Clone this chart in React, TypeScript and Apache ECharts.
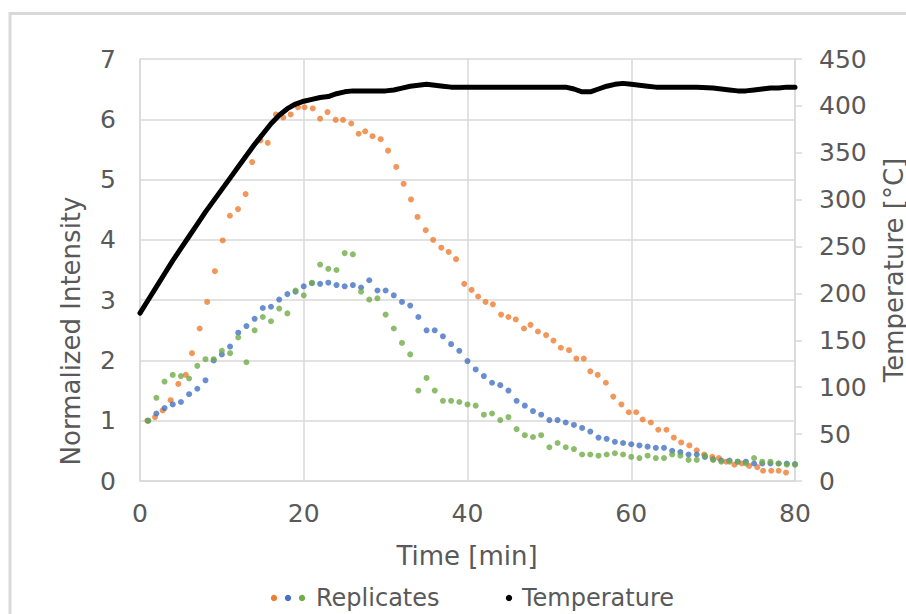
import React, { useEffect, useRef } from "react";
import * as echarts from "echarts";

// Replicate 1 (orange): measurement times [min] and normalized intensity
const orangeTime = [0.9, 1.83, 2.77, 3.74, 4.68, 5.6, 6.35, 7.29, 8.2, 9.15, 10.1, 10.98, 11.97, 12.9, 13.7, 14.7, 15.6, 16.6, 17.5, 18.4, 19.3, 20.1, 21.1, 22.0, 22.9, 23.9, 24.8, 25.8, 26.7, 27.5, 28.4, 29.4, 30.3, 31.3, 32.2, 33.1, 33.9, 34.9, 35.8, 36.8, 37.7, 38.6, 39.6, 40.5, 41.3, 42.2, 43.1, 44.1, 45.0, 45.9, 46.9, 47.7, 48.6, 49.6, 50.5, 51.4, 52.4, 53.3, 54.2, 55.0, 55.9, 56.9, 57.8, 58.8, 59.7, 60.6, 61.4, 62.4, 63.3, 64.3, 65.2, 66.1, 67.1, 68.0, 68.9, 69.9, 70.7, 71.6, 72.6, 73.5, 74.4, 75.4, 76.1, 77.1, 78.0, 78.9];
const orangeVals = [1.0, 1.06, 1.17, 1.34, 1.61, 1.76, 2.12, 2.53, 2.97, 3.48, 3.99, 4.4, 4.51, 4.76, 5.29, 5.65, 5.61, 6.08, 6.03, 6.08, 6.2, 6.2, 6.18, 6.01, 6.12, 5.99, 5.99, 5.93, 5.76, 5.8, 5.72, 5.67, 5.48, 5.21, 4.93, 4.67, 4.38, 4.16, 4.0, 3.87, 3.8, 3.68, 3.27, 3.17, 3.06, 2.97, 2.93, 2.76, 2.72, 2.68, 2.53, 2.59, 2.48, 2.42, 2.33, 2.21, 2.17, 2.03, 2.03, 1.82, 1.76, 1.63, 1.4, 1.27, 1.14, 1.14, 1.02, 0.97, 0.85, 0.85, 0.72, 0.64, 0.59, 0.51, 0.44, 0.4, 0.38, 0.32, 0.27, 0.29, 0.25, 0.23, 0.17, 0.17, 0.17, 0.14];

// Replicates 2 (blue) and 3 (green): measurement times [min]
const repTime = [1, 2, 3, 4, 5, 6, 7, 8, 9, 10, 11, 12, 13, 14, 15, 16, 17, 18, 19, 20, 21, 22, 23, 24, 25, 26, 27, 28, 29, 30, 31, 32, 33, 34, 35, 36, 37, 38, 39, 40, 41, 42, 43, 44, 45, 46, 47, 48, 49, 50, 51, 52, 53, 54, 55, 56, 57, 58, 59, 60, 61, 62, 63, 64, 65, 66, 67, 68, 69, 70, 71, 72, 73, 74, 75, 76, 77, 78, 79, 80];
const blueVals = [1.0, 1.12, 1.21, 1.27, 1.31, 1.44, 1.53, 1.67, 2.0, 2.1, 2.23, 2.46, 2.57, 2.69, 2.87, 2.89, 3.01, 3.1, 3.14, 3.23, 3.28, 3.27, 3.29, 3.25, 3.23, 3.25, 3.21, 3.33, 3.16, 3.16, 3.08, 2.97, 2.91, 2.72, 2.5, 2.5, 2.4, 2.27, 2.16, 1.99, 1.85, 1.74, 1.63, 1.59, 1.5, 1.33, 1.25, 1.16, 1.1, 1.01, 1.01, 0.97, 0.93, 0.88, 0.82, 0.72, 0.7, 0.65, 0.63, 0.61, 0.59, 0.57, 0.55, 0.55, 0.5, 0.48, 0.44, 0.44, 0.4, 0.36, 0.34, 0.34, 0.32, 0.32, 0.29, 0.29, 0.29, 0.29, 0.29, 0.28];
const greenVals = [1.0, 1.38, 1.65, 1.76, 1.74, 1.7, 1.91, 2.02, 2.02, 2.16, 2.12, 2.38, 1.97, 2.5, 2.72, 2.65, 2.86, 2.78, 3.16, 3.08, 3.29, 3.59, 3.52, 3.5, 3.78, 3.76, 3.14, 3.01, 3.03, 2.76, 2.53, 2.29, 2.1, 1.5, 1.71, 1.5, 1.33, 1.33, 1.31, 1.27, 1.25, 1.1, 1.12, 1.01, 1.06, 0.86, 0.76, 0.73, 0.76, 0.56, 0.63, 0.56, 0.53, 0.44, 0.44, 0.42, 0.44, 0.46, 0.44, 0.4, 0.38, 0.42, 0.38, 0.38, 0.44, 0.42, 0.35, 0.35, 0.42, 0.35, 0.32, 0.32, 0.32, 0.29, 0.38, 0.32, 0.32, 0.29, 0.27, 0.27];

// Temperature [°C]
const tempTime = [0, 1, 2, 3, 4, 5, 6, 7, 8, 9, 10, 11, 12, 13, 14, 15, 16, 17, 18, 19, 20, 21, 22, 23, 24, 25, 26, 27, 28, 29, 30, 31, 32, 33, 34, 35, 36, 37, 38, 39, 40, 45, 50, 52, 53, 54, 55, 56, 57, 58, 59, 60, 61, 62, 63, 64, 66, 68, 70, 71, 72, 73, 74, 75, 76, 77, 78, 79, 80];
const tempVals = [179, 193, 207, 221, 235, 248, 261, 274, 287, 299, 311, 323, 335, 347, 359, 370, 381, 390, 397, 402, 405, 407, 409, 410, 413, 415, 416, 416, 416, 416, 416, 417, 419, 421, 422, 423, 422, 421, 420, 420, 420, 420, 420, 420, 418, 415, 415, 418, 421, 423, 424, 423, 422, 421, 420, 420, 420, 420, 419, 418, 417, 416, 416, 417, 418, 419, 419, 420, 420];

// Axis ticks
const xTicks = { min: 0, max: 80, interval: 20 };
const leftTicks = { min: 0, max: 7, interval: 1 };
const rightTicks = { min: 0, max: 450, interval: 50 };

const FONT = "DejaVu Sans";
const TXT = "#595959";
const GRID = "#d9d9d9";
const ORANGE = "#ED7D31";
const BLUE = "#4472C4";
const GREEN = "#70AD47";

const pairs = (xs: number[], ys: number[]) => xs.map((x, i) => [x, ys[i]]);

export default function App() {
  const ref = useRef<HTMLDivElement>(null);
  useEffect(() => {
    if (!ref.current) return;
    const chart = echarts.init(ref.current, undefined, { renderer: "svg" });
    const dot = { symbol: "circle", symbolSize: 6 };
    chart.setOption({
      animation: false,
      backgroundColor: "#ffffff",
      grid: { left: 140, right: 111, top: 59, bottom: 133, containLabel: false },
      xAxis: {
        type: "value",
        ...xTicks,
        axisLine: { show: true, lineStyle: { color: GRID, width: 1.5 } },
        axisTick: { show: false },
        splitLine: { show: true, lineStyle: { color: GRID, width: 1.5 } },
        axisLabel: { color: TXT, fontFamily: FONT, fontSize: 25, margin: 20 },
      },
      yAxis: [
        {
          type: "value",
          ...leftTicks,
          axisLine: { show: true, lineStyle: { color: GRID, width: 1.5 } },
          axisTick: { show: false },
          splitLine: { show: true, lineStyle: { color: GRID, width: 1.5 } },
          axisLabel: { color: TXT, fontFamily: FONT, fontSize: 25, margin: 24 },
        },
        {
          type: "value",
          position: "right",
          ...rightTicks,
          axisLine: { show: true, lineStyle: { color: GRID, width: 1.5 } },
          axisTick: { show: true, length: 7, lineStyle: { color: GRID, width: 1.5 } },
          splitLine: { show: false },
          axisLabel: { color: TXT, fontFamily: FONT, fontSize: 25, margin: 24 },
        },
      ],
      series: [
        { type: "scatter", name: "R1", data: pairs(orangeTime, orangeVals), ...dot, itemStyle: { color: ORANGE }, z: 2 },
        { type: "scatter", name: "R2", data: pairs(repTime, blueVals), ...dot, itemStyle: { color: BLUE }, z: 3 },
        { type: "scatter", name: "R3", data: pairs(repTime, greenVals), ...dot, itemStyle: { color: GREEN }, z: 4 },
        {
          type: "line",
          name: "Temperature",
          yAxisIndex: 1,
          data: pairs(tempTime, tempVals),
          showSymbol: false,
          symbol: "none",
          lineStyle: { color: "#000000", width: 5, cap: "round", join: "round" },
          z: 5,
        },
      ],
      graphic: [
        {
          type: "rect",
          shape: { x: 10, y: 13.5, width: 1000, height: 700 },
          style: { fill: "none", stroke: "#d9d9d9", lineWidth: 3 },
          silent: true,
        },
        {
          type: "text",
          x: 71,
          y: 331,
          rotation: Math.PI / 2,
          style: { text: "Normalized Intensity", fill: TXT, font: `26px "${FONT}"`, textAlign: "center", textVerticalAlign: "middle" },
        },
        {
          type: "text",
          x: 894,
          y: 270,
          rotation: Math.PI / 2,
          style: { text: "Temperature [°C]", fill: TXT, font: `26px "${FONT}"`, textAlign: "center", textVerticalAlign: "middle" },
        },
        {
          type: "text",
          x: 467,
          y: 556,
          style: { text: "Time [min]", fill: TXT, font: `26px "${FONT}"`, textAlign: "center", textVerticalAlign: "middle" },
        },
        { type: "circle", shape: { cx: 274, cy: 598, r: 3.2 }, style: { fill: ORANGE } },
        { type: "circle", shape: { cx: 288, cy: 598, r: 3.2 }, style: { fill: BLUE } },
        { type: "circle", shape: { cx: 302, cy: 598, r: 3.2 }, style: { fill: GREEN } },
        {
          type: "text",
          x: 316,
          y: 598,
          style: { text: "Replicates", fill: TXT, font: `24px "${FONT}"`, textAlign: "left", textVerticalAlign: "middle" },
        },
        { type: "circle", shape: { cx: 509, cy: 598, r: 3.2 }, style: { fill: "#000000" } },
        {
          type: "text",
          x: 522,
          y: 598,
          style: { text: "Temperature", fill: TXT, font: `24px "${FONT}"`, textAlign: "left", textVerticalAlign: "middle" },
        },
      ],
    });
    return () => chart.dispose();
  }, []);
  return (
    <div
      ref={ref}
      style={{ position: "fixed", left: 0, top: 0, width: 906, height: 614, background: "#fff" }}
    />
  );
}
